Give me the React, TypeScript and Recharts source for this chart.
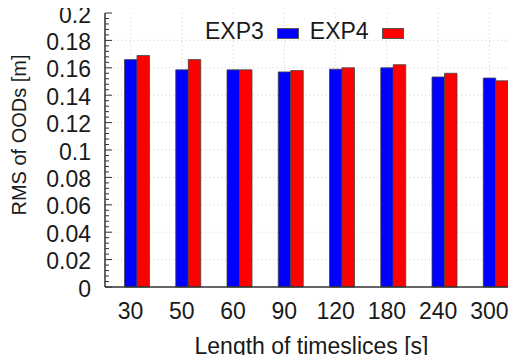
import { BarChart, Bar, XAxis, YAxis, CartesianGrid, Legend } from "recharts"

const FONT = "'Liberation Sans', Arial, sans-serif"
const TEXT = "#1a1a1a"
const FRAME = "#333"
const GRID = "#cfcfcf"

const CATEGORIES = ["30", "50", "60", "90", "120", "180", "240", "300"]
const EXP3 = [0.166, 0.1585, 0.1585, 0.157, 0.159, 0.16, 0.1533, 0.1525]
const EXP4 = [0.169, 0.166, 0.1585, 0.158, 0.16, 0.1623, 0.156, 0.1505]
const Y_MAJOR = [0, 0.02, 0.04, 0.06, 0.08, 0.1, 0.12, 0.14, 0.16, 0.18, 0.2]

const SERIES = [
  { key: "exp3", name: "EXP3", color: "#0000ff" },
  { key: "exp4", name: "EXP4", color: "#ff0000" },
]

const data = CATEGORIES.map((label, i) => ({ label, exp3: EXP3[i], exp4: EXP4[i] }))

// 5 minor intervals between majors (gnuplot-style inward tics)
const yTicks: number[] = []
Y_MAJOR.forEach((v, i) => {
  yTicks.push(v)
  if (i < Y_MAJOR.length - 1) {
    const step = (Y_MAJOR[i + 1] - v) / 5
    for (let k = 1; k < 5; k++) yTicks.push(v + step * k)
  }
})

const isMajor = (v: number) => Y_MAJOR.some((m) => Math.abs(m - v) < 1e-6)
const fmt = (v: number) => String(Number(v.toFixed(3)))

function LeftTick({ x, y, payload }: any) {
  const major = isMajor(payload.value)
  return (
    <g>
      <line x1={x} x2={x + (major ? 7 : 4)} y1={y} y2={y} stroke={FRAME} strokeWidth={1} />
      {major && (
        <text x={x - 14} y={y + 9.5} textAnchor="end" fontSize={23} fontFamily={FONT} fill={TEXT}>
          {fmt(payload.value)}
        </text>
      )}
    </g>
  )
}

function RightTick({ x, y }: any) {
  return <line x1={x - 7} x2={x} y1={y} y2={y} stroke={FRAME} strokeWidth={1} />
}

function TopTick({ x, y }: any) {
  return <line x1={x} x2={x} y1={y} y2={y + 7} stroke={FRAME} strokeWidth={1} />
}

function LegendBox() {
  return (
    <div style={{ display: "flex", alignItems: "flex-start", fontFamily: FONT, fontSize: 23, lineHeight: 1, color: TEXT }}>
      {SERIES.map((s) => (
        <div key={s.key} style={{ display: "flex", alignItems: "flex-start", marginRight: 11 }}>
          <span>{s.name}</span>
          <span
            style={{
              display: "inline-block",
              width: 22,
              height: 11,
              marginLeft: 13,
              marginTop: 8,
              background: s.color,
              border: "1px solid #555",
              boxSizing: "border-box",
            }}
          />
        </div>
      ))}
    </div>
  )
}

export default function App() {
  return (
    <div style={{ margin: -8, width: 516, height: 363, background: "#fff" }}>
      <BarChart
        width={516}
        height={363}
        data={data}
        margin={{ top: 13, right: 0, bottom: 0, left: 0 }}
        barGap={0}
        barSize={12.5}
      >
        <CartesianGrid stroke={GRID} strokeDasharray="1 3" horizontalValues={Y_MAJOR.slice(1, -1)} />
        <XAxis
          dataKey="label"
          height={76}
          interval={0}
          tickLine={false}
          tickSize={0}
          tickMargin={16}
          axisLine={{ stroke: FRAME, strokeWidth: 1.5 }}
          tick={{ fontSize: 23, fill: TEXT, fontFamily: FONT }}
          label={{
            content: ({ viewBox }: any) => (
              <text
                x={viewBox.x + viewBox.width / 2 + 1.5}
                y={viewBox.y + 67}
                textAnchor="middle"
                fontSize={23}
                fontFamily={FONT}
                fill={TEXT}
              >
                Length of timeslices [s]
              </text>
            ),
          }}
        />
        <XAxis
          xAxisId="top"
          dataKey="label"
          orientation="top"
          height={0}
          interval={0}
          tickLine={false}
          tickSize={0}
          tickMargin={0}
          axisLine={{ stroke: FRAME, strokeWidth: 1.5 }}
          tick={<TopTick />}
        />
        <YAxis
          width={105}
          domain={[0, 0.2]}
          ticks={yTicks}
          interval={0}
          tickLine={false}
          tickSize={0}
          tickMargin={0}
          axisLine={{ stroke: FRAME, strokeWidth: 1.5 }}
          tick={<LeftTick />}
          label={{
            content: ({ viewBox }: any) => {
              const cx = 19
              const cy = viewBox.y + viewBox.height / 2 - 15
              return (
                <text
                  x={cx}
                  y={cy}
                  transform={`rotate(-90 ${cx} ${cy})`}
                  textAnchor="middle"
                  dominantBaseline="central"
                  fontSize={20}
                  fontFamily={FONT}
                  fill={TEXT}
                >
                  RMS of OODs [m]
                </text>
              )
            },
          }}
        />
        <YAxis
          yAxisId="right"
          orientation="right"
          width={1}
          domain={[0, 0.2]}
          ticks={Y_MAJOR}
          interval={0}
          tickLine={false}
          tickSize={0}
          tickMargin={0}
          axisLine={{ stroke: FRAME, strokeWidth: 1.5 }}
          tick={<RightTick />}
        />
        <Legend
          layout="horizontal"
          verticalAlign="middle"
          align="center"
          content={<LegendBox />}
          wrapperStyle={{ top: 20, left: 205, width: "auto", height: "auto" }}
        />
        {/* empty slot so the category tic sits on the first bar, like gnuplot */}
        <Bar dataKey="pad" fill="none" legendType="none" isAnimationActive={false} />
        {SERIES.map((s) => (
          <Bar
            key={s.key}
            dataKey={s.key}
            name={s.name}
            fill={s.color}
            stroke="#444"
            strokeWidth={0.8}
            isAnimationActive={false}
          />
        ))}
      </BarChart>
    </div>
  )
}
